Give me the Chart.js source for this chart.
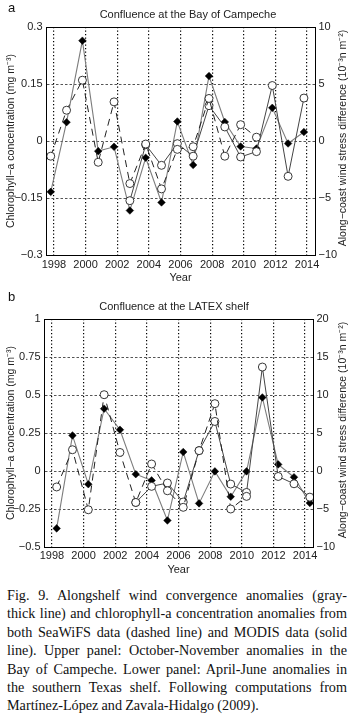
<!DOCTYPE html>
<html>
<head>
<meta charset="utf-8">
<script src="https://cdn.jsdelivr.net/npm/chart.js@4.4.1/dist/chart.umd.min.js"></script>
<style>
  html, body { margin: 0; padding: 0; background: #fff; }
  body { width: 354px; height: 714px; position: relative; overflow: hidden; }
  canvas { position: absolute; left: 0; }
  #chartA { top: 0; }
  #chartB { top: 290px; }
  .letter { position: absolute; left: 8px; font: 13px "Liberation Sans", Arial, sans-serif; color: #111; }
  #caption { position: absolute; left: 7px; top: 586px; width: 340px;
    font: 14.2px "Liberation Serif", "Times New Roman", serif; line-height: 18.4px; color: #111;
    word-spacing: -0.4px; }
  #caption div { text-align: justify; text-align-last: justify; }
  #caption div.last { text-align-last: left; }
</style>
</head>
<body>
<canvas id="chartA" width="354" height="285"></canvas>
<canvas id="chartB" width="354" height="290"></canvas>
<div class="letter" style="top:0px">a</div>
<div class="letter" style="top:289px">b</div>
<div id="caption">
  <div>Fig. 9. Alongshelf wind convergence anomalies (gray-</div>
  <div>thick line) and chlorophyll-a concentration anomalies from</div>
  <div>both SeaWiFS data (dashed line) and MODIS data (solid</div>
  <div>line). Upper panel: October-November anomalies in the</div>
  <div>Bay of Campeche. Lower panel: April-June anomalies in</div>
  <div>the southern Texas shelf. Following computations from</div>
  <div class="last">Martínez-López and Zavala-Hidalgo (2009).</div>
</div>
<script>
// seasonal position of each yearly value on the time axis
const OCT_NOV = 0.8;
const APR_JUN = 0.3;

// panel a - Bay of Campeche (Oct-Nov)
const yearsA = [1997,1998,1999,2000,2001,2002,2003,2004,2005,2006,2007,2008,2009,2010,2011,2012,2013];
const windA = [-4.46,1.65,8.8,-0.89,-0.51,-6.1,-1.47,-5.39,1.71,-2.1,5.7,1.67,-0.48,-0.66,2.91,-0.22,0.79];
const seawifsYearsA = [1997,1998,1999,2000,2001,2002,2003,2004,2005,2006,2007,2008,2009,2010];
const seawifsA = [-0.040,0.081,0.160,-0.056,0.103,-0.112,-0.008,-0.126,-0.022,-0.015,0.112,-0.040,0.043,0.010];
const modisYearsA = [2002,2003,2004,2005,2006,2007,2008,2009,2010,2011,2012,2013];
const modisA = [-0.157,-0.010,-0.064,-0.007,-0.040,0.093,0.037,-0.042,-0.028,0.146,-0.093,0.113];

// panel b - LATEX shelf (Apr-Jun)
const yearsB = [1998,1999,2000,2001,2002,2003,2004,2005,2006,2007,2008,2009,2010,2011,2012,2013,2014];
const windB = [-7.55,4.68,-1.74,8.2,5.43,-0.42,-1.24,-6.51,2.5,-4.26,-0.05,-3.38,-0.05,9.68,0.87,-0.82,-4.21];
const seawifsYearsB = [1998,1999,2000,2001,2002,2003,2004,2005,2006,2007,2008,2009,2010];
const seawifsB = [-0.105,0.140,-0.255,0.502,0.122,-0.207,0.046,-0.130,-0.239,0.134,0.443,-0.250,-0.167];
const modisYearsB = [2003,2004,2005,2006,2007,2008,2009,2010,2011,2012,2013,2014];
const modisB = [-0.207,-0.101,-0.079,-0.204,0.134,0.326,-0.086,-0.141,0.684,-0.036,-0.084,-0.172];

// ticks
const yearTicks = [1998,2000,2002,2004,2006,2008,2010,2012,2014];
const chlTicksA = [-0.3,-0.15,0,0.15,0.3];
const windTicksA = [-10,-5,0,5,10];
const chlTicksB = [-0.5,-0.25,0,0.25,0.5,0.75,1];
const windTicksB = [-10,-5,0,5,10,15,20];

const FONT = '"Liberation Sans", Arial, sans-serif';
const lbl = v => String(v).replace('-', '\u2212');
const pts = (yrs, vals, off) => yrs.map((y, i) => ({x: y + off, y: vals[i]}));

const frame = {
  id: 'frame',
  afterDraw(chart, args, o) {
    const {ctx, chartArea: a} = chart;
    ctx.save();
    ctx.strokeStyle = '#000';
    ctx.lineWidth = 1;
    ctx.strokeRect(Math.round(a.left) + 0.5, Math.round(a.top) + 0.5,
      Math.round(a.right - a.left), Math.round(a.bottom - a.top));
    ctx.fillStyle = '#222';
    ctx.textAlign = 'center';
    ctx.textBaseline = 'middle';
    ctx.font = '11px ' + FONT;
    ctx.fillText(o.title, o.titleX, o.titleY);
    // right axis label reads bottom to top like the left one
    ctx.translate(343, (a.top + a.bottom) / 2 - 3);
    ctx.rotate(-Math.PI / 2);
    ctx.font = '10.5px ' + FONT;
    ctx.fillText('Along\u2212coast wind stress difference (10\u207B\u00B3n m\u207B\u00B2)', 0, 0);
    ctx.restore();
  }
};

function panel(id, p) {
  const tickFont = {family: FONT, size: 11};
  return new Chart(document.getElementById(id), {
    type: 'line',
    data: {
      datasets: [
        { data: pts(p.seaYears, p.sea, p.off), yAxisID: 'yL',
          borderColor: '#222', borderWidth: 1, borderDash: [7, 5],
          pointStyle: 'circle', pointRadius: 4, pointBackgroundColor: '#fff',
          pointBorderColor: '#222', pointBorderWidth: 0.9 },
        { data: pts(p.modYears, p.mod, p.off), yAxisID: 'yL',
          borderColor: '#444', borderWidth: 1,
          pointStyle: 'circle', pointRadius: 4, pointBackgroundColor: '#fff',
          pointBorderColor: '#222', pointBorderWidth: 0.9 },
        { data: pts(p.years, p.wind, p.off), yAxisID: 'yR',
          borderColor: '#7c7c7c', borderWidth: 1.1,
          pointStyle: 'rectRot', pointRadius: 3.8, pointBackgroundColor: '#000',
          pointBorderColor: '#000', pointBorderWidth: 0.5 }
      ]
    },
    options: {
      responsive: false,
      animation: false,
      layout: { padding: { top: p.top, left: 0, right: 0, bottom: 0 }, autoPadding: false },
      plugins: {
        legend: { display: false },
        tooltip: { enabled: false },
        frame: { title: p.title, titleX: p.titleX, titleY: p.titleY }
      },
      scales: {
        x: {
          type: 'linear', min: 1997.5, max: 2014.5,
          afterBuildTicks: s => { s.ticks = yearTicks.map(v => ({value: v})); },
          afterFit: s => { s.height = p.xh; },
          ticks: { font: tickFont, color: '#222', padding: p.xpad, maxRotation: 0, callback: v => String(v) },
          grid: { color: '#000', lineWidth: 1.2, drawTicks: false },
          border: { color: '#000', dash: [1.3, 2.2] },
          title: { display: true, text: 'Year', font: tickFont, color: '#222', padding: { top: 0, bottom: p.ypad } }
        },
        yL: {
          position: 'left', min: p.chl[0], max: p.chl[p.chl.length - 1],
          afterBuildTicks: s => { s.ticks = p.chl.map(v => ({value: v})); },
          afterFit: s => { s.width = p.lw; },
          ticks: { font: tickFont, color: '#222', padding: 3.5, callback: v => lbl(v) },
          grid: { color: '#555', lineWidth: 1, drawTicks: false },
          border: { color: '#000', dash: [2.5, 2] },
          title: { display: true, text: 'Chlorophyll\u2212a concentration (mg m\u207B\u00B3)',
            font: {family: FONT, size: 10.5}, color: '#222', padding: { top: 5, bottom: 0 } }
        },
        yR: {
          position: 'right', min: p.wnd[0], max: p.wnd[p.wnd.length - 1],
          afterBuildTicks: s => { s.ticks = p.wnd.map(v => ({value: v})); },
          afterFit: s => { s.width = 354 - p.right; },
          ticks: { font: tickFont, color: '#222', padding: 3.5, callback: v => lbl(v) },
          grid: { display: false, drawTicks: false },
          border: { color: '#000' }
        }
      }
    },
    plugins: [frame]
  });
}

panel('chartA', {
  off: OCT_NOV, years: yearsA, wind: windA,
  seaYears: seawifsYearsA, sea: seawifsA, modYears: modisYearsA, mod: modisA,
  chl: chlTicksA, wnd: windTicksA,
  top: 27, xh: 30, lw: 46, right: 315, xpad: 3, ypad: 0,
  title: 'Confluence at the Bay of Campeche', titleX: 188, titleY: 15
});

panel('chartB', {
  off: APR_JUN, years: yearsB, wind: windB,
  seaYears: seawifsYearsB, sea: seawifsB, modYears: modisYearsB, mod: modisB,
  chl: chlTicksB, wnd: windTicksB,
  top: 29, xh: 33, lw: 44, right: 313, xpad: 2.5, ypad: 3.5,
  title: 'Confluence at the LATEX shelf', titleX: 174, titleY: 17
});
</script>
</body>
</html>
